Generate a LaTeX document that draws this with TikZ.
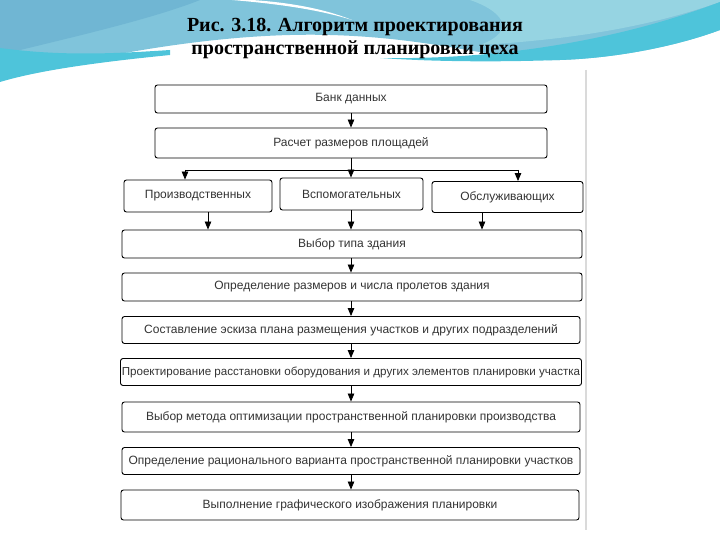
\documentclass[tikz,border=0pt]{standalone}
\usepackage{fontspec}
\setmainfont{Liberation Serif}
\newfontfamily\boxfont{Liberation Sans}
\usetikzlibrary{arrows.meta}
\definecolor{skytop}{RGB}{112,182,211}
\definecolor{skymid}{RGB}{128,196,219}
\definecolor{skyright}{RGB}{150,212,226}
\definecolor{swoosh}{RGB}{78,196,218}
\definecolor{scangray}{RGB}{218,218,218}

\begin{document}
\begin{tikzpicture}[x=1pt,y=-1pt,
  box/.style={draw, rounded corners=2.5pt, line width=0.9pt, inner sep=1pt,
    font=\boxfont\fontsize{12}{14}\selectfont, text=black!80},
  tip/.style={-{Triangle[width=6.5pt,length=8pt]}, line width=0.8pt}]
  \useasboundingbox (0,0) rectangle (720,540);
  % slide background
  \path[fill=skymid] (0,0) -- (720,0) -- (720,30)
    .. controls (680,45) and (620,58) .. (560,60)
    .. controls (500,62) and (440,38) .. (330,35)
    .. controls (220,32) and (100,55) .. (0,80) -- cycle;
  \path[fill=skytop] (0,0) -- (200,0) .. controls (150,20) and (60,40) .. (0,55) -- cycle;
  \path[fill=skyright] (470,0) -- (720,0) -- (720,2) .. controls (640,30) and (560,40) .. (480,45)
    .. controls (520,30) and (500,10) .. (470,0) -- cycle;
  \path[fill=swoosh] (0,48) .. controls (60,56) and (110,54) .. (170,50)
    -- (170,55) .. controls (100,62) and (40,70) .. (0,82) -- cycle;
  \path[fill=swoosh] (380,58) .. controls (500,60) and (620,40) .. (720,2) -- (720,30)
    .. controls (680,45) and (620,58) .. (560,60)
    .. controls (500,62) and (440,62) .. (380,58) -- cycle;
  \path[fill=white] (232,0) .. controls (280,4) and (320,10) .. (352,20)
    .. controls (320,7) and (282,2) .. (252,0) -- cycle;
  \draw[scangray, line width=2pt] (586,70) -- (586,530);
  \node[font=\bfseries\fontsize{20}{23}\selectfont, align=center] (title) at (355,38)
    {Рис. 3.18. Алгоритм проектирования\\пространственной планировки цеха};
  % boxes
  \node[box, minimum width=392pt, minimum height=28pt] (bank) at (351,99) {Банк данных};
  \node[box, minimum width=392pt, minimum height=30pt] (calc) at (351,143) {Расчет размеров площадей};
  \node[box, minimum width=148pt, minimum height=32pt] (prod) at (198,196) {Производственных};
  \node[box, minimum width=143pt, minimum height=32pt] (aux) at (351.5,194) {Вспомогательных};
  \node[box, minimum width=151pt, minimum height=31pt] (serv) at (507.5,197) {Обслуживающих};
  \node[box, minimum width=460pt, minimum height=28pt] (type) at (352,244) {Выбор типа здания};
  \node[box, minimum width=460pt, minimum height=28pt] (span) at (352,287) {Определение размеров и числа пролетов здания};
  \node[box, minimum width=458pt, minimum height=27pt] (sketch) at (351,330) {Составление эскиза плана размещения участков и других подразделений};
  \node[box, minimum width=461pt, minimum height=27pt, font=\boxfont\fontsize{11.6}{14}\selectfont] (equip) at (351,372) {Проектирование расстановки оборудования и других элементов планировки участка};
  \node[box, minimum width=458pt, minimum height=30pt] (method) at (351,417) {Выбор метода оптимизации пространственной планировки производства};
  \node[box, minimum width=458pt, minimum height=27pt] (variant) at (351,461) {Определение рационального варианта пространственной планировки участков};
  \node[box, minimum width=458pt, minimum height=30pt] (draft) at (350,505) {Выполнение графического изображения планировки};
  % connectors
  \coordinate (split) at (351,170);
  \coordinate (splitL) at (185,170);
  \coordinate (splitR) at (518,170);
  \draw[line width=0.8pt] (calc.south -| split) -- (split) (splitL) -- (splitR);
  \path[tip]
  (bank.south -| split) edge (calc.north -| split)
  (splitL) edge (splitL |- prod.north)
  (split) edge (split |- aux.north)
  (splitR) edge (splitR |- serv.north)
  ([xshift=10pt]prod.south) edge ([xshift=10pt]prod.south |- type.north)
  (aux.south -| split) edge (type.north -| split)
  ([xshift=-25.5pt]serv.south) edge ([xshift=-25.5pt]serv.south |- type.north)
  (type.south -| split) edge (span.north -| split)
  (span.south -| split) edge (sketch.north -| split)
  (sketch.south -| split) edge (equip.north -| split)
  (equip.south -| split) edge (method.north -| split)
  (method.south -| split) edge (variant.north -| split)
  (variant.south -| split) edge (draft.north -| split)
  ;
\end{tikzpicture}
\end{document}
